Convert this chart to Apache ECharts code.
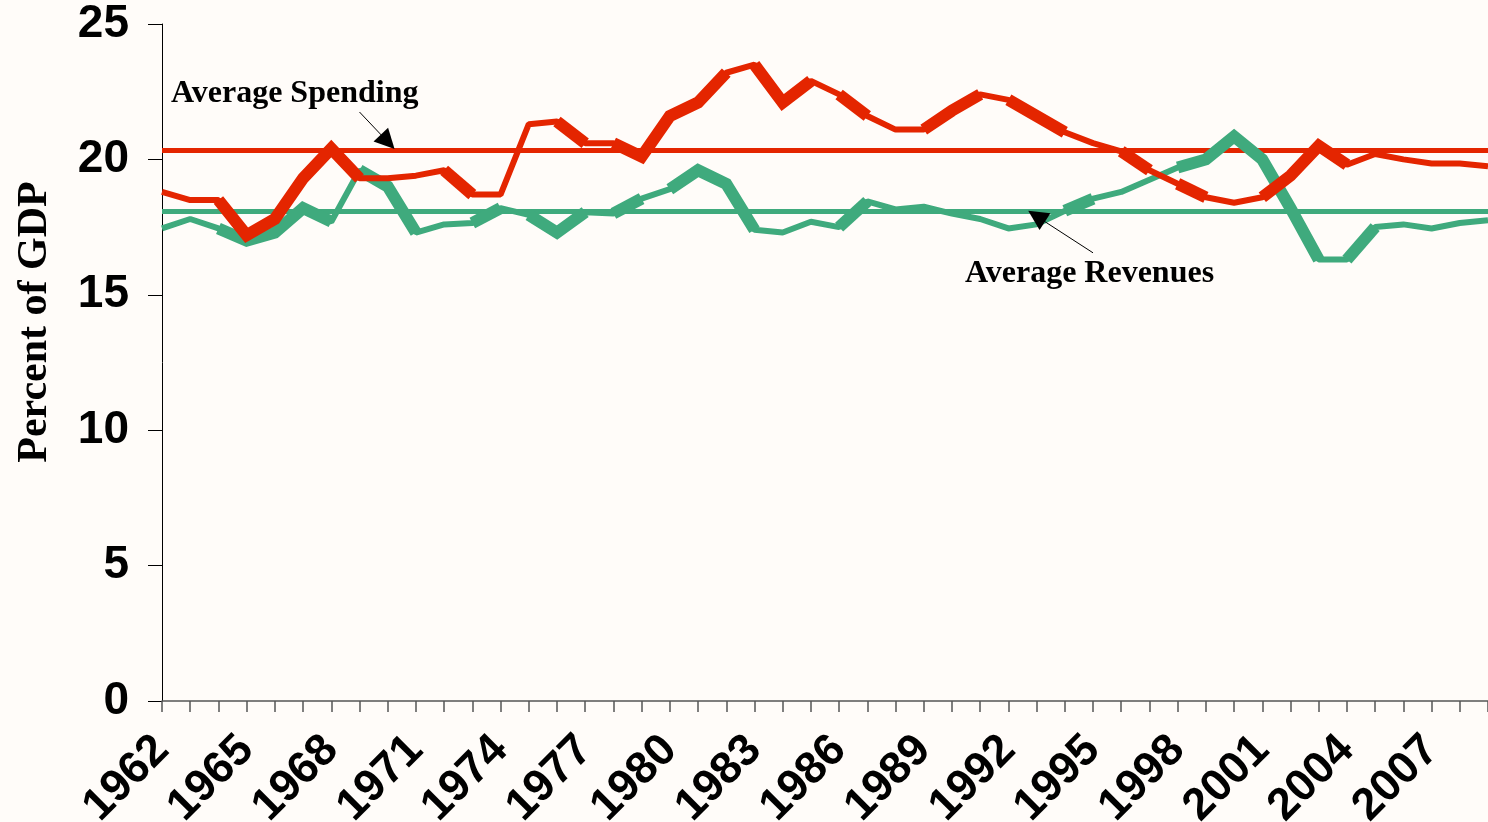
<!DOCTYPE html>
<html>
<head>
    <meta charset="utf-8">
    <title>Spending and Revenues</title>
    <script src="https://cdn.jsdelivr.net/npm/echarts@6/dist/echarts.min.js"></script>
</head>
<body style="margin:0;background:#FFFCF9;">
<div id="main" style="width:1488px;height:822px;"></div>
<script type="text/javascript">
    // years on the x axis
    var years = ['1962','1963','1964','1965','1966','1967','1968','1969','1970','1971',
        '1972','1973','1974','1975','1976','1977','1978','1979','1980','1981',
        '1982','1983','1984','1985','1986','1987','1988','1989','1990','1991',
        '1992','1993','1994','1995','1996','1997','1998','1999','2000','2001',
        '2002','2003','2004','2005','2006','2007','2008','2009'];

    // percent of GDP
    var spending = [18.8, 18.5, 18.5, 17.2, 17.8, 19.3, 20.4, 19.3, 19.3, 19.4,
        19.6, 18.7, 18.7, 21.3, 21.4, 20.6, 20.6, 20.1, 21.6, 22.1,
        23.2, 23.5, 22.1, 22.9, 22.4, 21.6, 21.1, 21.1, 21.8, 22.4,
        22.2, 21.6, 21.0, 20.6, 20.3, 19.6, 19.1, 18.6, 18.4, 18.6,
        19.4, 20.5, 19.8, 20.2, 20.0, 19.85, 19.85, 19.75];
    var revenues = [17.45, 17.8, 17.45, 17.0, 17.3, 18.2, 17.7, 19.6, 19.0, 17.3,
        17.6, 17.65, 18.2, 17.95, 17.3, 18.05, 18.0, 18.55, 18.9, 19.6,
        19.1, 17.4, 17.3, 17.7, 17.5, 18.45, 18.15, 18.25, 18.0, 17.8,
        17.45, 17.6, 18.1, 18.55, 18.8, 19.25, 19.7, 20.0, 20.85, 20.0,
        18.2, 16.3, 16.3, 17.5, 17.6, 17.45, 17.65, 17.75];

    // averages over the period
    var avgSpending = 20.35;
    var avgRevenues = 18.07;

    // years whose segment to the next year is drawn heavy
    var spendingBold = [1964,1965,1966,1967,1968,1972,1976,1978,1979,1980,1981,1983,1984,
        1986,1989,1990,1992,1993,1996,1998,2001,2002,2003];
    var revenuesBold = [1964,1965,1966,1967,1969,1970,1973,1975,1976,1978,1980,1981,1982,
        1986,1994,1998,1999,2000,2001,2002,2004];

    var yTicks = [0, 5, 10, 15, 20, 25];

    var RED = '#E42500';
    var GREEN = '#3FAA7D';

    // group bold segment starts into runs and build one heavy series per run
    function heavySeries(values, bold, color, z) {
        var idx = bold.map(function (y) { return years.indexOf(String(y)); }).sort(function (a, b) { return a - b; });
        var runs = [];
        idx.forEach(function (i) {
            var last = runs[runs.length - 1];
            if (last && last[1] === i - 1) last[1] = i;
            else runs.push([i, i]);
        });
        return runs.map(function (r) {
            return {
                type: 'line',
                silent: true,
                symbol: 'none',
                z: z,
                lineStyle: {color: color, width: 12, cap: 'butt', join: 'miter'},
                data: values.map(function (v, i) { return (i >= r[0] && i <= r[1] + 1) ? v : null; })
            };
        });
    }

    var myChart = echarts.init(document.getElementById('main'));

    var series = [
        {
            type: 'line',
            name: 'Revenues',
            silent: true,
            symbol: 'none',
            z: 3,
            lineStyle: {color: GREEN, width: 6},
            data: revenues,
            markLine: {
                silent: true,
                symbol: ['none', 'none'],
                label: {show: false},
                z: 1,
                data: [
                    {yAxis: avgRevenues, lineStyle: {color: GREEN, width: 5, type: 'solid'}},
                    {yAxis: avgSpending, lineStyle: {color: RED, width: 5, type: 'solid'}}
                ]
            }
        },
        {
            type: 'line',
            name: 'Spending',
            silent: true,
            symbol: 'none',
            z: 5,
            lineStyle: {color: RED, width: 6},
            data: spending
        },
        {
            // pointer arrows from the labels to the average lines
            type: 'line',
            silent: true,
            symbol: 'none',
            z: 8,
            data: [],
            markLine: {
                silent: true,
                symbol: ['none', 'triangle'],
                symbolSize: 20,
                label: {show: false},
                lineStyle: {color: '#000', width: 1, type: 'solid'},
                itemStyle: {color: '#000'},
                data: [
                    [{coord: [6.95, 21.75]}, {coord: [8.0, 20.65]}],
                    [{coord: [32.95, 16.55]}, {coord: [30.85, 17.9]}]
                ]
            }
        }
    ].concat(heavySeries(revenues, revenuesBold, GREEN, 3))
     .concat(heavySeries(spending, spendingBold, RED, 5));

    myChart.setOption({
        backgroundColor: '#FFFCF9',
        animation: false,
        grid: {left: 162, right: 0, top: 24, bottom: 121, containLabel: false, outerBoundsMode: 'none'},
        xAxis: {
            type: 'category',
            boundaryGap: false,
            data: years,
            axisLine: {lineStyle: {color: '#555', width: 1.5}},
            axisTick: {show: true, interval: 0, length: 11, lineStyle: {color: '#555', width: 1.5}},
            axisLabel: {
                interval: 2,
                rotate: 45,
                margin: 42,
                color: '#000',
                fontFamily: 'Liberation Sans',
                fontWeight: 'bold',
                fontSize: 45
            },
            splitLine: {show: false}
        },
        yAxis: {
            type: 'value',
            min: yTicks[0],
            max: yTicks[yTicks.length - 1],
            interval: 5,
            axisLine: {show: true, lineStyle: {color: '#000', width: 1}},
            axisTick: {show: true, inside: false, length: 14, lineStyle: {color: '#000'}},
            axisLabel: {
                margin: 33,
                color: '#000',
                fontFamily: 'Liberation Sans',
                fontWeight: 'bold',
                fontSize: 46
            },
            splitLine: {show: false}
        },
        graphic: [
            {
                type: 'text',
                x: 35, y: 322,
                rotation: Math.PI / 2,
                style: {
                    text: 'Percent of GDP',
                    fill: '#000',
                    font: 'bold 42px "Liberation Serif"',
                    textAlign: 'center',
                    textVerticalAlign: 'middle'
                }
            },
            {
                type: 'text',
                x: 171, y: 94,
                style: {
                    text: 'Average Spending',
                    fill: '#000',
                    font: 'bold 32px "Liberation Serif"',
                    textAlign: 'left',
                    textVerticalAlign: 'middle'
                }
            },
            {
                type: 'text',
                x: 965, y: 274,
                style: {
                    text: 'Average Revenues',
                    fill: '#000',
                    font: 'bold 32px "Liberation Serif"',
                    textAlign: 'left',
                    textVerticalAlign: 'middle'
                }
            }
        ],
        series: series
    });
</script>
</body>
</html>
